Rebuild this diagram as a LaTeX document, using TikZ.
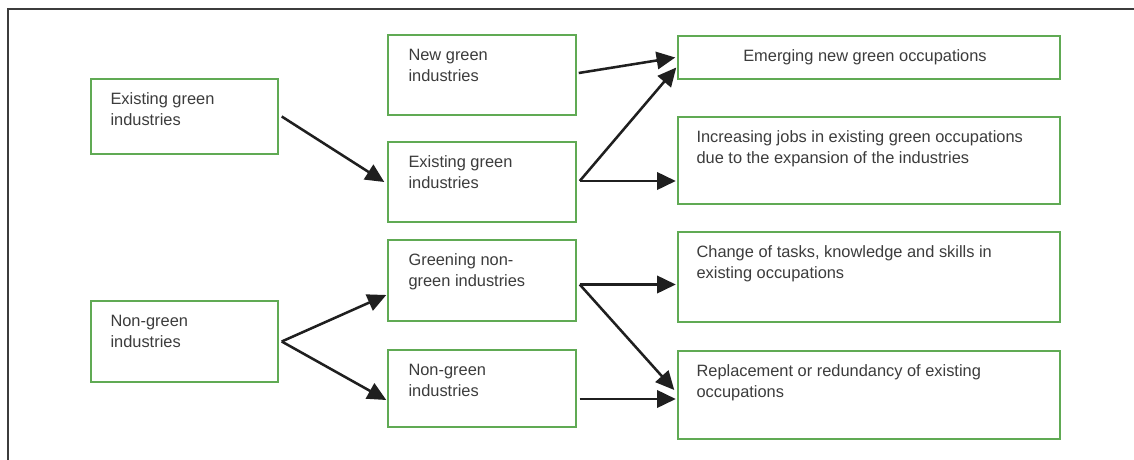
\documentclass[tikz,border=0pt]{standalone}
\usepackage{fontspec}
\setmainfont{Liberation Sans}
\usetikzlibrary{arrows.meta,fit,calc}
\definecolor{boxgreen}{RGB}{96,170,84}
\definecolor{txtgray}{RGB}{60,60,60}
\definecolor{framegray}{RGB}{60,60,60}
\newcommand\twoline[2]{\vtop{\hbox{#1}\hbox{#2}}}
\begin{document}
\begin{tikzpicture}[x=0.75pt,y=-0.75pt,
  gbox/.style={draw=boxgreen,line width=1.1pt,inner sep=0pt},
  txt/.style={inner sep=0pt,anchor=base west,text=txtgray,font=\fontsize{12.3}{16}\selectfont},
  arr/.style={-{Triangle[length=14pt,width=13pt]},line width=1.9pt,draw=black!88}]
\useasboundingbox (0,0) rectangle (1134,460);
\fill[white] (0,0) rectangle (1134,460);
\draw[framegray,line width=1.2pt] (8,9) rectangle (1160,490);
% boxes
\node[gbox,fit={(91,79)(278,154)}] (A) {};
\node[gbox,fit={(388,35)(576,115)}] (B) {};
\node[gbox,fit={(388,142)(576,222)}] (C) {};
\node[gbox,fit={(388,240)(576,321)}] (D) {};
\node[gbox,fit={(388,350)(576,427)}] (E) {};
\node[gbox,fit={(91,301)(278,382)}] (F) {};
\node[gbox,fit={(678,36)(1060,79)}] (G) {};
\node[gbox,fit={(678,117)(1060,204)}] (H) {};
\node[gbox,fit={(678,232)(1060,322)}] (I) {};
\node[gbox,fit={(678,351)(1060,439)}] (J) {};
% texts
\node[txt] (At) at ([shift={(20,26)}]A.north west) {\twoline{Existing green}{industries}};
\node[txt] (Bt) at ([shift={(21,26)}]B.north west) {\twoline{New green}{industries}};
\node[txt] (Ct) at ([shift={(21,26)}]C.north west) {\twoline{Existing green}{industries}};
\node[txt] (Dt) at ([shift={(21,26)}]D.north west) {\twoline{Greening non-}{green industries}};
\node[txt] (Et) at ([shift={(21,26)}]E.north west) {\twoline{Non-green}{industries}};
\node[txt] (Ft) at ([shift={(20,26)}]F.north west) {\twoline{Non-green}{industries}};
\node[txt,anchor=base] (Gt) at ([shift={(-4,26)}]G.north) {Emerging new green occupations};
\node[txt] (Ht) at ([shift={(19,26)}]H.north west) {\twoline{Increasing jobs in existing green occupations}{due to the expansion of the industries}};
\node[txt] (It) at ([shift={(19,26)}]I.north west) {\twoline{Change of tasks, knowledge and skills in}{existing occupations}};
\node[txt] (Jt) at ([shift={(19,26)}]J.north west) {\twoline{Replacement or redundancy of existing}{occupations}};
% connectors
\draw[arr] ([shift={(3,0)}]A.east) -- ([shift={(-3,0)}]C.west);
\draw[arr] ([shift={(2,-2)}]B.east) -- ([shift={(-2,0)}]G.west);
\coordinate (c1) at ([shift={(3,-1)}]C.east);
\draw[arr] (c1) -- ([shift={(-1,10)}]G.west);
\draw[arr] (c1) -- ($(H.west |- c1)+(-1.5,0)$);
\coordinate (f1) at ([shift={(3,0)}]F.east);
\draw[arr] (f1) -- ([shift={(-1,14.5)}]D.west);
\draw[arr] (f1) -- ([shift={(-1,11.5)}]E.west);
\coordinate (e1) at ([shift={(3,10.5)}]E.east);
\draw[arr] (e1) -- ($(J.west |- e1)+(-1.5,0)$);
\coordinate (d1) at ([shift={(3,4)}]D.east);
\draw[arr] (d1) -- ($(I.west |- d1)+(-1.5,0)$);
\draw[arr] (d1) -- ([shift={(-3,-5)}]J.west);
\end{tikzpicture}
\end{document}
